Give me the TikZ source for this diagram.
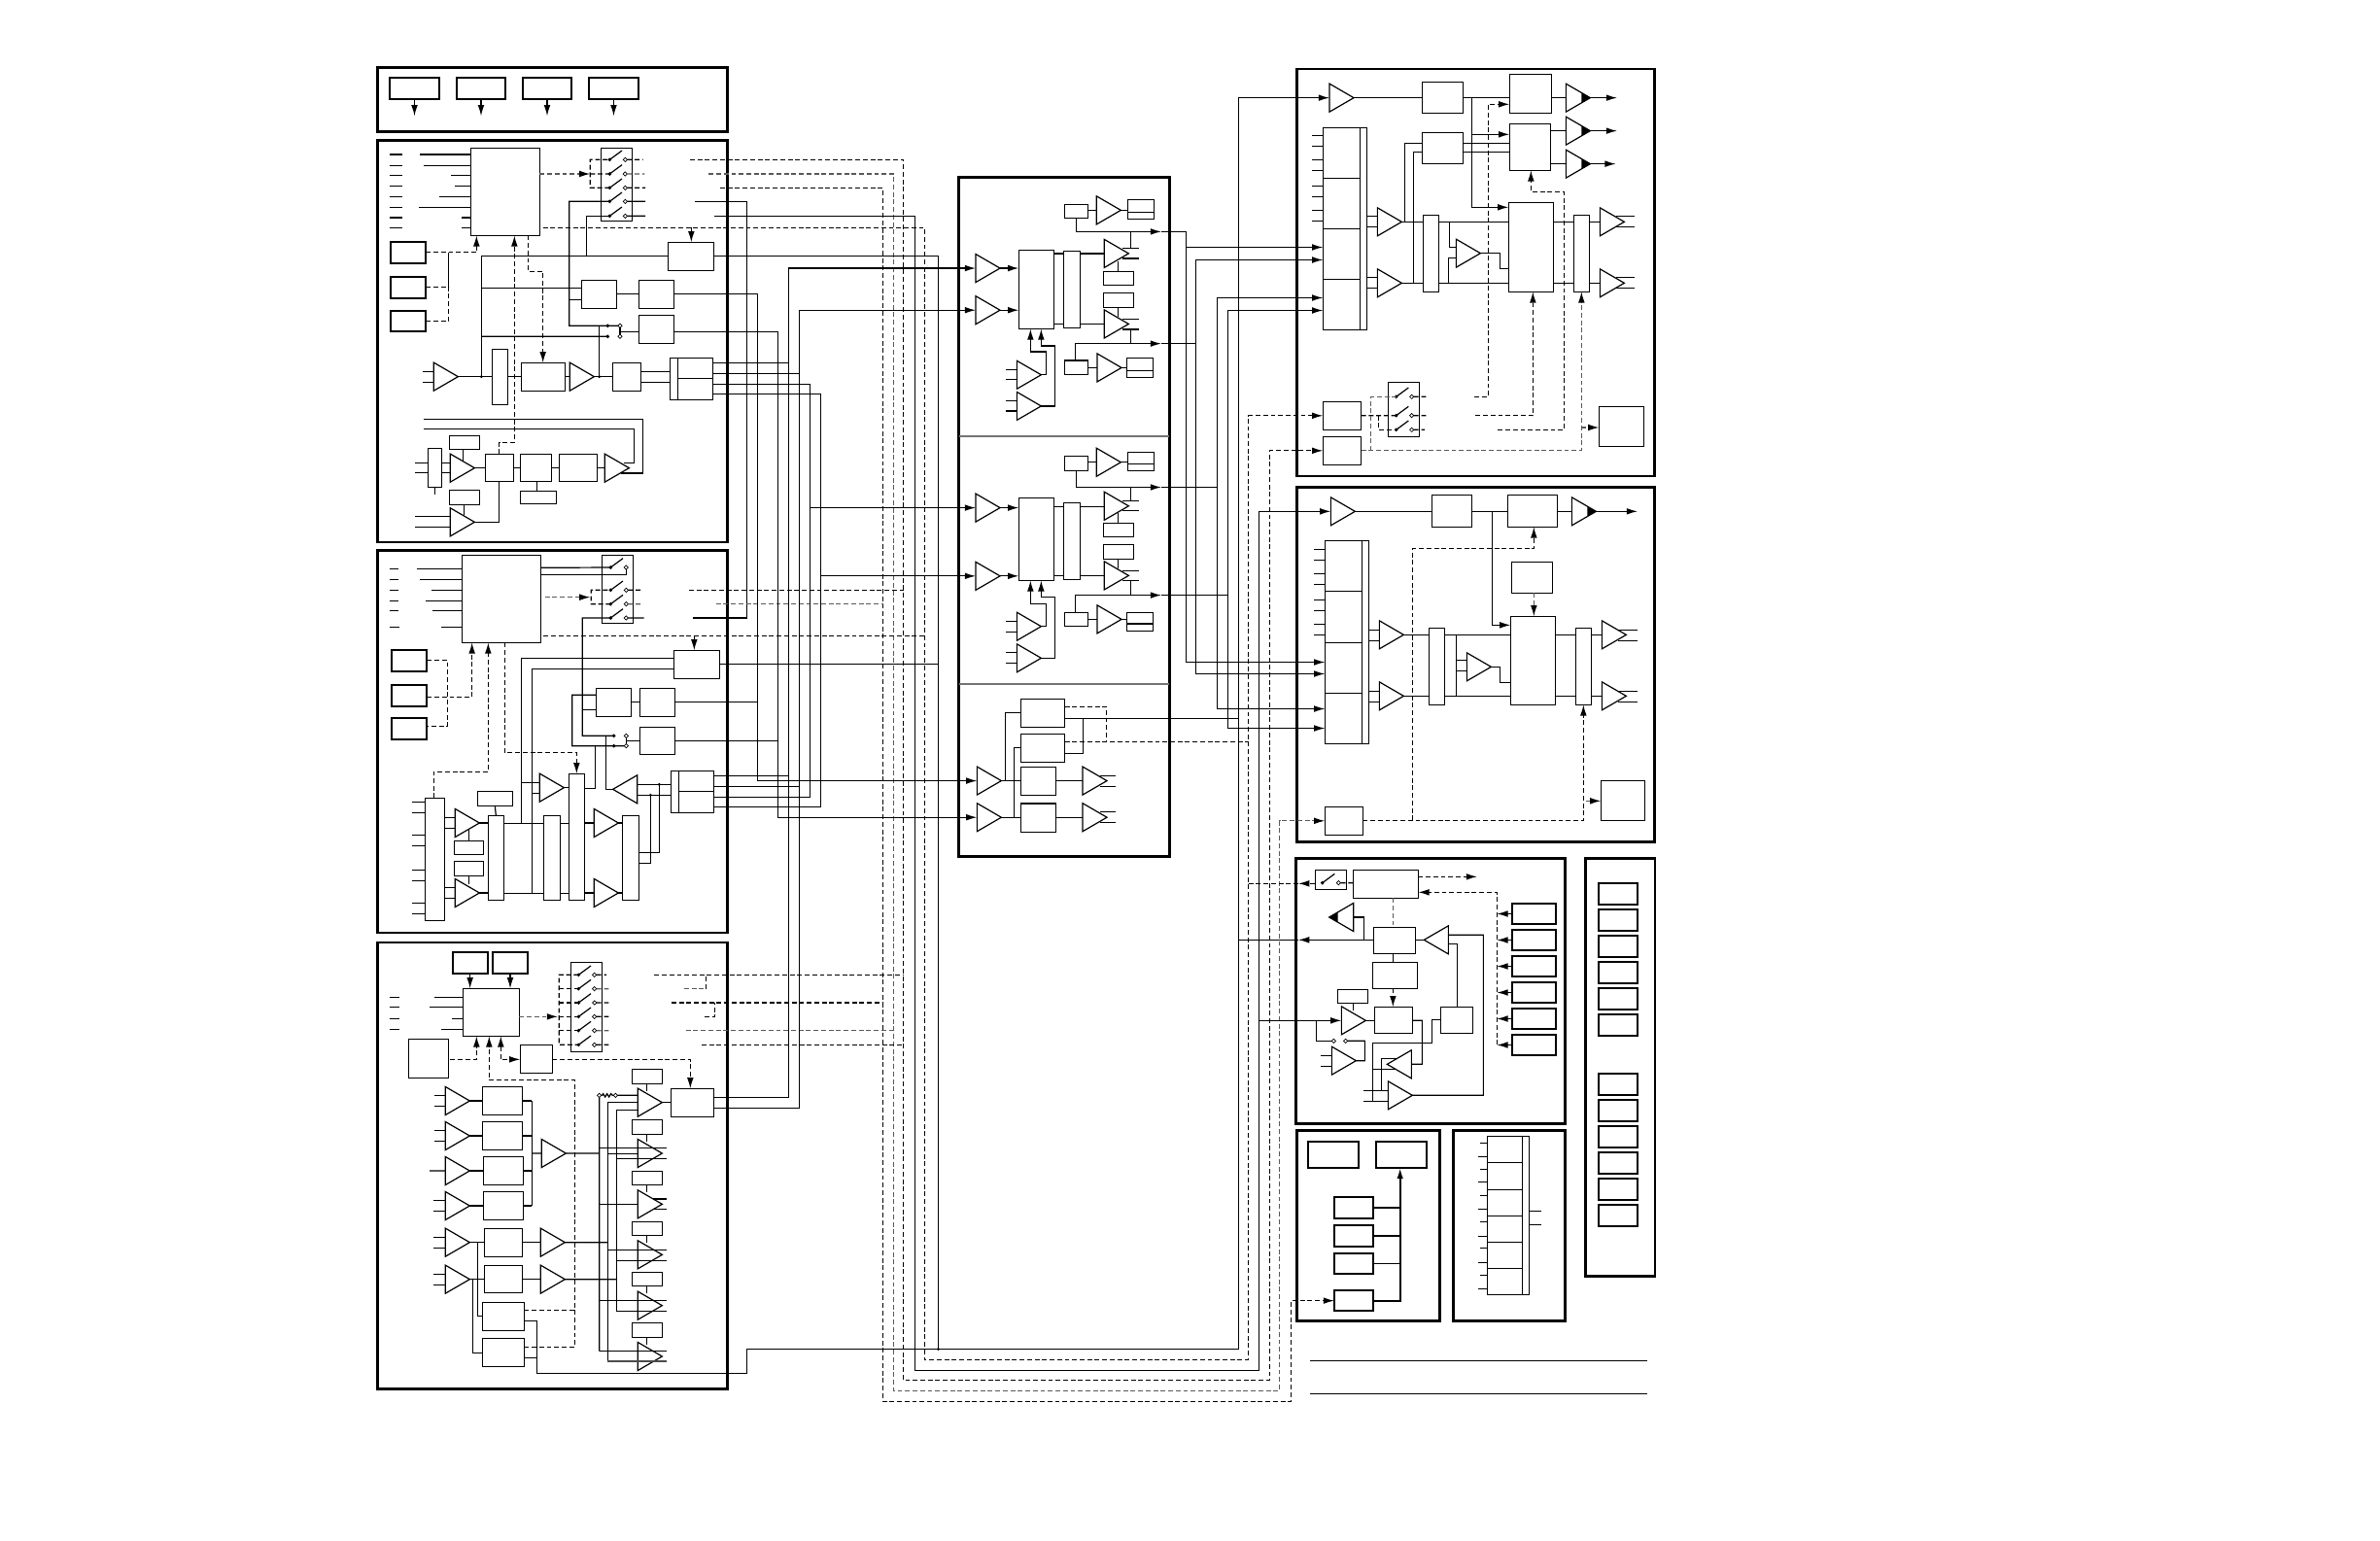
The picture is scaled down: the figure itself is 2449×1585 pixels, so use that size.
\documentclass[tikz,border=0pt]{standalone}
\usetikzlibrary{arrows.meta,fit,shapes.geometric}
\tikzset{
  dsh/.style={dash pattern=on 1.4pt off .8pt},
  gdsh/.style={dsh,draw=black!65},
  boxs/.style={draw,rectangle,inner sep=0pt,outer sep=0pt,line width=.34pt},
  boxk/.style={boxs,line width=.5pt},
  panel/.style={boxs,line width=.8pt},
  ampn/.style={rectangle,inner sep=0pt,outer sep=0pt,minimum width=.25cm,minimum height=.29cm},
  bdot/.style={diamond,fill=black,inner sep=0pt,outer sep=0pt,minimum size=1.1pt},
  odot/.style={diamond,draw,fill=white,line width=.2pt,inner sep=0pt,outer sep=0pt,minimum size=1.2pt},
  jdot/.style={circle,fill=black,inner sep=0pt,minimum size=.9pt},
  >={Latex[length=3.2pt,width=1.9pt,color=black]},
}
\newcommand{\bx}[6][boxs]{\path (#3,#4) coordinate (#2-p) (#5,#6) coordinate (#2-q); \node[#1,fit=(#2-p)(#2-q)] (#2) {};}
\newcommand{\ampr}[3]{\node[ampn,anchor=west] (#1) at (#2,#3) {}; \draw (#1.north west) -- (#1.east) -- (#1.south west) -- cycle;}
\newcommand{\ampl}[3]{\node[ampn,anchor=east] (#1) at (#2,#3) {}; \draw (#1.north east) -- (#1.west) -- (#1.south east) -- cycle;}
\newcommand{\amprf}[3]{\ampr{#1}{#2}{#3} \fill (#1.east) -- ++(-27,-16) -- ++(0,32) -- cycle;}
\newcommand{\amplf}[3]{\ampl{#1}{#2}{#3} \fill (#1.west) -- ++(27,-16) -- ++(0,32) -- cycle;}
\newcommand{\swt}[4]{\node[bdot] (#1a) at (#2,#4) {}; \node[odot] (#1b) at (#3,#4) {}; \draw (#1a.center) -- ++(38,-28);}
\begin{document}
\begin{tikzpicture}[x=.01cm,y=-.01cm,line width=.34pt]
\useasboundingbox (0,0) rectangle (2449,1585);
\begin{scope}[shift={(370,50)},scale=1/3]
  \bx[panel]{kp}{55}{58}{1136}{256}
  \bx[boxk]{k1}{92}{90}{247}{156}
  \bx[boxk]{k2}{299}{90}{451}{156}
  \bx[boxk]{k3}{503}{90}{655}{156}
  \bx[boxk]{k4}{707}{90}{862}{156}
  \foreach \n in {k1,k2,k3,k4} \draw[->] (\n.south) -- ++(0,52);
  \bx[panel]{ap}{55}{284}{1136}{1524}
  \bx{ac}{343}{307}{556}{577}
  \foreach \y in {327,361,391,424,457,490,522,553} \draw (92,\y) -- (132,\y);
  \foreach \y/\x in {327/186,361/198,391/282,424/294,457/246,490/183,522/315,553/315} \draw (ac.west |- 0,\y) -- (\x,\y);
  \bx[boxk]{ak1}{95}{597}{205}{662}
  \bx[boxk]{ak2}{95}{704}{205}{771}
  \bx[boxk]{ak3}{95}{809}{205}{874}
  \draw[dsh,->] (ak1.east) -| (ac.south -| 361,0);
  \draw[dsh] (ak2.east) -| (275,629);
  \draw[dsh] (ak3.east) -| (275,629);
  \bx{as}{745}{307}{841}{532}
  \foreach \n/\y in {1/343,2/387,3/430,4/472,5/517} {\swt{as\n}{772}{820}{\y}}
  \draw[gdsh,->] (ac.east |- 0,387) -- (712,387);
  \draw[dsh] (712,387) -- (as2a.center);
  \draw[dsh] (as3a.center) -| (712,343) -- (as1a.center);
  \draw[dsh] (as1b.east) -- (875,343);
  \draw[gdsh] (as2b.east) -- (880,387);
  \draw[dsh] (as3b.east) -- (882,430);
  \draw (as4b.east) -- (882,472);
  \draw (as5b.east) -- (882,517);
  \coordinate (ga1) at (1020,343);
  \coordinate (ga2) at (1078,387);
  \coordinate (ga3) at (1113,430);
  \coordinate (ga4) at (1035,472);
  \coordinate (ga5) at (1096,517);
  \coordinate (gad) at (566,553);
  \bx{art}{952}{598}{1093}{686}
  \draw[dsh,->] (1024,553) -- (art.north -| 1024,0);
  \bx{am1}{685}{715}{793}{802}
  \bx{am2}{862}{715}{970}{802}
  \bx{am3}{862}{823}{970}{910}
  \node[bdot] (aq1) at (766,856) {};
  \node[bdot] (aq2) at (766,889) {};
  \node[odot] (ar1) at (804,856) {};
  \node[odot] (ar2) at (804,889) {};
  \draw (as4a.center) -| (647,856) -- (aq1.center) -- (ar1.west);
  \draw (ar1.south) -- (ar2.north);
  \draw (804,874) -- (am3.west |- 0,874);
  \draw (as5a.center) -| (700,640);
  \draw (art.west |- 0,640) -| (376,1013);
  \draw (am1.west |- 0,739) -- (376,739);
  \draw (am1.west |- 0,775) -- (647,775);
  \draw (am1.east) to (am2.west);
  \draw (376,889) -- (aq2.center);
  \draw (740,856) -- (740,1013);
  \bx{ad}{499}{970}{634}{1057}
  \draw[dsh,->] (ac.south -| 520,0) |- (566,688) -- (ad.north -| 566,0);
  \ampr{au1}{229}{1013}
  \draw (au1.west |- 0,997) -- ++(-33,0);
  \draw (au1.west |- 0,1030) -- ++(-33,0);
  \bx{av}{409}{928}{458}{1100}
  \draw (au1.east) -- (au1.east -| av.west);
  \draw (av.east |- au1.east) -- (ad.west |- au1.east);
  \ampr{au2}{649}{1013}
  \draw (ad.east |- au2.west) -- (au2.west);
  \bx{ae}{781}{970}{868}{1057}
  \draw (au2.east) -- (au2.east -| ae.west);
  \node[jdot] (aj1) at (376,1013) {};
  \node[jdot] (aj2) at (740,1013) {};
  \bx{ao}{958}{955}{1090}{1084}
  \draw (982,955) -- (982,1084);
  \draw (982,1018) -- (1090,1018);
  \draw (ae.east |- 0,997) -- (ao.west |- 0,997);
  \draw (ae.east |- 0,1030) -- (ao.west |- 0,1030);
  \bx{af}{211}{1234}{253}{1354}
  \draw (232,1354) -- (232,1376);
  \ampr{au3}{280}{1295}
  \ampr{au4}{757}{1295}
  \ampr{au5}{280}{1462}
  \foreach \y in {1279,1309} {
    \draw (af.west |- 0,\y) -- ++(-40,0);
    \draw (af.east |- 0,\y) -- (au3.west |- 0,\y);
  }
  \bx{ag1}{277}{1195}{370}{1237}
  \draw (319,1237) -- (319,1276);
  \bx{ag2}{388}{1252}{475}{1336}
  \bx{ag3}{496}{1252}{592}{1336}
  \bx{ag4}{616}{1252}{733}{1336}
  \bx{ag5}{496}{1366}{607}{1405}
  \bx{ag6}{277}{1363}{370}{1408}
  \draw (au3.east) -- (au3.east -| ag2.west);
  \draw (ag2.east |- au3.east) -- (ag3.west |- au3.east);
  \draw (ag3.east |- au3.east) -- (ag4.west |- au3.east);
  \draw (ag4.east |- au4.west) -- (au4.west);
  \draw (547,1336) -- (547,1366);
  \draw (322,1408) -- (322,1441);
  \draw[dsh,->] (ag2.north -| 431,0) |- (478,1217) -- (ac.south -| 478,0);
  \draw (au5.east) -| (ag2.south -| 431,0);
  \draw (au5.west |- 0,1444) -- ++(-109,0);
  \draw (au5.west |- 0,1477) -- ++(-109,0);
  \draw (808,1311) -| (875,1144) -- (199,1144);
  \draw (815,1279) -| (848,1174) -- (199,1174);
\end{scope}
\begin{scope}[shift={(370,560)},scale=1/3]
  \bx[panel]{bp}{55}{20}{1136}{1200}
  \bx{bc}{316}{34}{559}{304}
  \foreach \y in {76,109,142,175,205} \draw (92,\y) -- (120,\y);
  \draw (92,256) -- (124,256);
  \foreach \y/\x in {76/177,109/186,142/222,175/204,205/225,256/252} \draw (bc.west |- 0,\y) -- (\x,\y);
  \bx[boxk]{bk1}{99}{327}{208}{393}
  \bx[boxk]{bk2}{99}{435}{208}{501}
  \bx[boxk]{bk3}{99}{537}{208}{603}
  \draw[dsh] (bk1.east |- 0,358) -| (271,562) -- (bk3.east |- 0,562);
  \draw[dsh,->] (bk2.east |- 0,472) -| (bc.south -| 347,0);
  \bx{bs}{748}{34}{844}{244}
  \foreach \n/\y in {1/72,2/142,3/185,4/228} {\swt{bs\n}{775}{823}{\y}}
  \draw (bc.east |- 0,73) -- (bs1a.center);
  \draw (bc.east |- 0,94) -| (bs1b.south);
  \draw[gdsh,->] (572,164) -- (712,164);
  \draw[dsh] (bs3a.center) -| (715,142) -- (bs2a.center);
  \draw[dsh] (bs2b.east) -- (870,142);
  \draw[gdsh] (bs3b.east) -- (875,185);
  \draw (bs4b.east) -- (878,228);
  \coordinate (gb1) at (1017,142);
  \coordinate (gb2) at (1100,185);
  \coordinate (gb3) at (1030,228);
  \coordinate (gbd) at (568,284);
  \bx{brt}{970}{328}{1111}{415}
  \draw[dsh,->] (1033,284) -- (brt.north -| 1033,0);
  \draw (brt.west |- 0,352) -| (499,862);
  \draw (brt.west |- 0,385) -| (532,1078);
  \bx{bm1}{730}{445}{838}{532}
  \bx{bm2}{865}{445}{973}{532}
  \bx{bm3}{865}{565}{973}{649}
  \node[bdot] (bq1) at (785,592) {};
  \node[bdot] (bq2) at (785,623) {};
  \node[odot] (br1) at (823,592) {};
  \node[odot] (br2) at (823,623) {};
  \draw (bs4a.center) -| (688,592) -- (bq1.center);
  \draw (bm1.west |- 0,466) -| (656,623) -- (bq2.center) -- (br2.west);
  \draw (bm1.west |- 0,511) -- (688,511);
  \draw (bm1.east |- bm2.west) -- (bm2.west);
  \draw (br1.south) -- (br2.north);
  \draw (823,607) -- (bm3.west |- 0,607);
  \bx{bk}{202}{784}{262}{1162}
  \foreach \y in {796,829,898,931,1006,1039,1108,1141} \draw (bk.west |- 0,\y) -- ++(-40,0);
  \ampr{bu1}{295}{861}
  \ampr{bu2}{295}{1077}
  \foreach \y in {844,877,1060,1093} \draw (bk.east |- 0,\y) -- (bu1.west |- 0,\y);
  \bx{bf1}{292}{916}{382}{958}
  \bx{bf2}{292}{979}{382}{1024}
  \draw (337,880) -- (337,916);
  \draw (337,1024) -- (337,1050);
  \bx{bg}{397}{838}{445}{1099}
  \bx{bf3}{364}{763}{472}{809}
  \draw (bf3.south) -- (bg.north);
  \draw (bu1.east) -- (bu1.east -| bg.west);
  \draw (bu2.east) -- (bu2.east -| bg.west);
  \bx{bh}{568}{838}{619}{1099}
  \bx{bt}{646}{709}{694}{1099}
  \bx{bn}{811}{838}{862}{1099}
  \draw (bg.east |- 0,862) -- (bh.west |- 0,862);
  \draw (bg.east |- 0,1078) -- (bh.west |- 0,1078);
  \draw (bh.east |- 0,862) -- (bt.west |- 0,862);
  \draw (bh.east |- 0,1078) -- (bt.west |- 0,1078);
  \ampr{bu3}{556}{752}
  \draw (bu3.west |- 0,736) -- (499,736);
  \draw (bu3.west |- 0,769) -- (532,769);
  \draw (bu3.east) -- (bu3.east -| bt.west);
  \draw (727,623) |- (bt.east |- 0,754);
  \ampr{bu4}{724}{861}
  \ampr{bu5}{724}{1077}
  \draw (bt.east |- bu4.west) -- (bu4.west);
  \draw (bt.east |- bu5.west) -- (bu5.west);
  \draw (bu4.east) -- (bu4.east -| bn.west);
  \draw (bu5.east) -- (bu5.east -| bn.west);
  \ampl{bl}{857}{757}
  \draw (760,592) |- (bl.west);
  \bx{bo}{961}{700}{1093}{829}
  \draw (985,700) -- (985,829);
  \draw (985,763) -- (1093,763);
  \draw (bl.east |- 0,742) -- (bo.west |- 0,742);
  \draw (bl.east |- 0,775) -- (bo.west |- 0,775);
  \draw (bn.east |- 0,952) -| (925,742);
  \draw (bn.east |- 0,985) -| (898,775);
  \node[jdot] (bj1) at (925,742) {};
  \node[jdot] (bj2) at (898,775) {};
  \draw[dsh,->] (229,784) |- (397,703) -- (bc.south -| 397,0);
  \draw[dsh,->] (bc.south -| 448,0) |- (670,643) -- (bt.north -| 670,0);
\end{scope}
\begin{scope}[shift={(370,960)},scale=1/3]
  \bx[panel]{cp}{55}{30}{1136}{1408}
  \bx[boxk]{ck1}{287}{60}{396}{126}
  \bx[boxk]{ck2}{410}{60}{520}{126}
  \bx{cc}{319}{172}{493}{319}
  \draw[->] (ck1.south -| 341,0) -- (cc.north -| 341,0);
  \draw[->] (ck2.south -| 465,0) -- (cc.north -| 465,0);
  \foreach \y in {199,229,265,298} \draw (92,\y) -- (124,\y);
  \foreach \y/\x in {199/231,229/216,265/285,298/252} \draw (cc.west |- 0,\y) -- (\x,\y);
  \bx{cf}{151}{328}{274}{448}
  \draw[dsh,->] (280,391) -| (cc.south -| 361,0);
  \bx{cg}{496}{346}{595}{433}
  \bx{cx}{961}{481}{1093}{568}
  \draw[dsh,<->] (cc.south -| 436,0) |- (cg.west |- 0,391);
  \draw[dsh,->] (cg.east |- 0,391) -| (cx.north -| 1021,0);
  \draw[gdsh,->] (cc.east |- 0,259) -- (612,259);
  \bx{cs}{652}{91}{748}{367}
  \foreach \n/\y in {1/130,2/173,3/216,4/259,5/302,6/346} {\swt{cs\n}{676}{725}{\y}}
  \draw[dsh] (cs1a.center) -| (616,346) -- (cs6a.center);
  \foreach \n in {2,3,4,5} \draw[dsh] (616,0 |- cs\n a.center) -- (cs\n a.center);
  \draw[dsh] (cs1b.east) -- (762,130);
  \draw[gdsh] (cs2b.east) -- (775,173);
  \draw[dsh] (cs3b.east) -- (775,216);
  \draw[dsh] (cs4b.east) -- (775,259);
  \draw[gdsh] (cs5b.east) -- (775,302);
  \draw[dsh] (cs6b.east) -- (775,346);
  \coordinate (gc1) at (910,130);
  \coordinate (gc3) at (963,216);
  \coordinate (gc5) at (1007,302);
  \coordinate (gc6) at (1056,346);
  \coordinate (gcc) at (1195.5,1360);
  \draw[gdsh] (1002,173) -- (1070,173);
  \draw[dsh] (1070,173) -- (1070,130);
  \draw[dsh] (1065,259) -| (1097,216);
  \ampr{cu1}{265}{519}
  \ampr{cu2}{265}{627}
  \ampr{cu3}{265}{735}
  \ampr{cu4}{265}{843}
  \ampr{cu5}{265}{956}
  \ampr{cu6}{265}{1070}
  \foreach \y/\x in {502/231,535/231,610/231,643/231,826/228,859/228,940/228,973/228,1054/228,1087/228} \draw (cu1.west |- 0,\y) -- (\x,\y);
  \draw (cu3.west) -- (216,735);
  \bx{cw1}{379}{475}{502}{562}
  \bx{cw2}{379}{583}{502}{670}
  \bx{cw3}{382}{691}{505}{778}
  \bx{cw4}{382}{799}{505}{886}
  \bx{cw5}{385}{913}{502}{1000}
  \bx{cw6}{385}{1027}{502}{1111}
  \bx{ce1}{379}{1141}{508}{1228}
  \bx{ce2}{379}{1252}{508}{1339}
  \foreach \n in {1,2,3,4,5,6} \draw (cu\n.east) -- (cu\n.east -| cw\n.west);
  \foreach \n in {1,2,3,4} \draw (cw\n.east |- cu\n.east) -- (532,0 |- cu\n.east);
  \draw (532,519) -- (532,843);
  \ampr{cj1}{562}{681}
  \ampr{cj2}{559}{956}
  \ampr{cj3}{559}{1070}
  \draw (532,681) -- (cj1.west);
  \draw (cw5.east |- cj2.west) -- (cj2.west);
  \draw (cw6.east |- cj3.west) -- (cj3.west);
  \draw (cj1.east) -- (740,681);
  \draw (cj2.east) -- (766,956);
  \draw (cj3.east) -- (793,1070);
  \draw (364,956) |- (ce1.west |- 0,1183);
  \draw (349,1070) |- (ce2.west |- 0,1298);
  \draw (ce1.east |- 0,1198) -- (547,1198) |- (gcc);
  \draw (ce2.east |- 0,1312) -- (547,1312);
  \draw[dsh] (ce1.east |- 0,1165) -- (664,1165);
  \draw[dsh,->] (ce2.east |- 0,1279) -| (664,455) -| (cc.south -| 400,0);
  \foreach \n/\y in {1/524,2/681,3/838,4/994,5/1151,6/1308} {\ampr{cq\n}{859}{\y}}
  \bx{cr1}{841}{421}{935}{466}
  \bx{cr2}{841}{577}{935}{622}
  \bx{cr3}{841}{736}{935}{778}
  \bx{cr4}{841}{892}{935}{934}
  \bx{cr5}{841}{1048}{935}{1090}
  \bx{cr6}{841}{1205}{935}{1249}
  \foreach \n in {1,2,3,4,5,6} \draw (cr\n.south -| 886,0) -- ++(0,23);
  \draw (cq1.east) -- (cq1.east -| cx.west);
  \node[odot] (cl1) at (740,502) {};
  \node[odot] (cl2) at (790,502) {};
  \draw (cl1.east) -- (749,502) -- (752,497) -- (758,507) -- (764,497) -- (770,507) -- (776,497) -- (781,502) -- (cl2.west);
  \draw (cl2.east) -- (859,502);
  \draw (cl1.south) -- (740,1292);
  \draw (766,523) -- (766,1323);
  \draw (793,547) -- (793,1168);
  \draw (766,523) -- (cq1.west |- 0,523);
  \draw (793,547) -- (cq1.west |- 0,547);
  \foreach \a/\b/\y in {740/947/664,766/859/682,793/947/697,740/859/838,905/947/822,905/947/853,766/947/980,793/947/1013,740/947/1136,793/947/1168,740/947/1292} \draw (\a,\y) -- (\b,\y);
  \draw[draw=black!70] (766,1323) -- (947,1323);
\end{scope}
\begin{scope}[shift={(980,170)},xscale=1/3,yscale=1/2.178]
  \bx[panel]{mp}{20}{28}{670}{1550}
  \draw[draw=black!55,line width=.5pt] (mp.west |- 0,607) -- (mp.east |- 0,607);
  \draw[draw=black!55,line width=.5pt] (mp.west |- 0,1163) -- (mp.east |- 0,1163);
  \ampr{ma1}{72}{231}
  \ampr{ma2}{72}{325}
  \bx{mb1}{205}{190}{313}{367}
  \bx{mb2}{343}{193}{395}{365}
  \draw[->] (ma1.east) -- (ma1.east -| mb1.west);
  \draw[->] (ma2.east) -- (ma2.east -| mb1.west);
  \ampr{md1}{469}{198}
  \ampr{md2}{469}{356}
  \foreach \y in {198,356} {
    \draw (mb1.east |- 0,\y) -- (mb2.west |- 0,\y);
    \draw (mb2.east |- 0,\y) -- (md1.west |- 0,\y);
  }
  \bx{me1}{466}{238}{559}{269}
  \bx{me2}{466}{286}{559}{319}
  \draw (me1.north -| 512,0) -- (512,215);
  \draw (me2.south -| 512,0) -- (512,340);
  \foreach \y in {187,209,345,368} \draw (525,\y) -- (577,\y);
  \bx{mi1}{346}{88}{418}{119}
  \ampr{mh1}{445}{101}
  \bx{mj1}{541}{77}{622}{121}
  \draw (541,106) -- (622,106);
  \draw (mi1.east |- mh1.west) -- (mh1.west);
  \draw (mh1.east) -- (mh1.east -| mj1.west);
  \draw[->] (mi1.south -| 382,0) |- (645,149);
  \draw (550,187) -- (550,149);
  \coordinate (mo1) at (645,149);
  \bx{mi2}{346}{438}{418}{469}
  \ampr{mh2}{447}{454}
  \bx{mj2}{538}{432}{619}{476}
  \draw (538,460) -- (619,460);
  \draw (mi2.east |- mh2.west) -- (mh2.west);
  \draw (mh2.east) -- (mh2.east -| mj2.west);
  \draw[->] (mi2.north -| 380,0) |- (645,400);
  \draw (550,368) -- (550,400);
  \coordinate (mo2) at (645,400);
  \ampr{mg1}{199}{470}
  \ampr{mg2}{199}{540}
  \foreach \y in {458,481,528,551} \draw (mg1.west |- 0,\y) -- ++(-34,0);
  \draw[->] (mg1.east) -| (290,418) -| (mb1.south -| 241,0);
  \draw[->] (mg2.east) -| (316,405) -| (mb1.south -| 274,0);
  \ampr{ma3}{72}{768}
  \ampr{ma4}{72}{921}
  \bx{mb3}{205}{746}{313}{931}
  \bx{mb4}{343}{757}{395}{929}
  \draw[->] (ma3.east) -- (ma3.east -| mb3.west);
  \draw[->] (ma4.east) -- (ma4.east -| mb3.west);
  \ampr{md3}{469}{764}
  \ampr{md4}{469}{920}
  \foreach \y in {765,921} {
    \draw (mb3.east |- 0,\y) -- (mb4.west |- 0,\y);
    \draw (mb4.east |- 0,\y) -- (md3.west |- 0,\y);
  }
  \bx{me3}{466}{802}{559}{833}
  \bx{me4}{466}{851}{559}{883}
  \draw (me3.north -| 512,0) -- (512,780);
  \draw (me4.south -| 512,0) -- (512,905);
  \foreach \y in {752,775,909,932} \draw (525,\y) -- (577,\y);
  \bx{mi3}{346}{652}{418}{685}
  \ampr{mh3}{445}{666}
  \bx{mj3}{541}{643}{622}{685}
  \draw (541,670) -- (622,670);
  \draw (mi3.east |- mh3.west) -- (mh3.west);
  \draw (mh3.east) -- (mh3.east -| mj3.west);
  \draw[->] (mi3.south -| 382,0) |- (645,722);
  \draw (550,752) -- (550,722);
  \coordinate (mo3) at (645,722);
  \bx{mi4}{346}{1003}{418}{1033}
  \ampr{mh4}{447}{1018}
  \bx{mj4}{538}{1003}{619}{1044}
  \draw (538,1028) -- (619,1028);
  \draw (mi4.east |- mh4.west) -- (mh4.west);
  \draw (mh4.east) -- (mh4.east -| mj4.west);
  \draw[->] (mi4.north -| 380,0) |- (645,964);
  \draw (550,932) -- (550,964);
  \coordinate (mo4) at (645,964);
  \ampr{mg3}{199}{1034}
  \ampr{mg4}{199}{1105}
  \foreach \y in {1022,1046,1092,1116} \draw (mg3.west |- 0,\y) -- ++(-34,0);
  \draw[->] (mg3.east) -| (290,983) -| (mb3.south -| 241,0);
  \draw[->] (mg4.east) -| (316,968) -| (mb3.south -| 274,0);
  \bx{ms1}{211}{1197}{347}{1260}
  \bx{ms2}{211}{1275}{347}{1338}
  \bx{ms3}{211}{1349}{320}{1413}
  \bx{ms4}{211}{1431}{320}{1495}
  \ampr{mc1}{76}{1380}
  \ampr{mc2}{76}{1462}
  \draw (mc1.east) -- (mc1.east -| ms3.west);
  \draw (mc2.east) -- (mc2.east -| ms4.west);
  \draw (163,1380) |- (ms1.west |- 0,1227);
  \draw (190,1462) |- (ms2.west |- 0,1305);
  \draw (ms2.east |- 0,1318) -| (404,1240);
  \coordinate (mo5) at (ms1.east |- 0,1240);
  \coordinate (mo6) at (ms2.east |- 0,1292);
  \draw[dsh] (ms1.east |- 0,1214) -| (476,1292);
  \ampr{mt1}{402}{1380}
  \ampr{mt2}{402}{1462}
  \draw (ms3.east |- mt1.west) -- (mt1.west);
  \draw (ms4.east |- mt2.west) -- (mt2.west);
  \foreach \y in {1369,1393,1450,1474} \draw (455,\y) -- (503,\y);
\end{scope}
\begin{scope}[shift={(1330,60)},scale=1/3]
  \bx[panel]{rp}{14}{33}{1118}{1290}
  \ampr{ra1}{114}{122}
  \bx{rb1}{400}{73}{526}{169}
  \bx{rb2}{670}{49}{799}{169}
  \bx{rb3}{670}{202}{797}{346}
  \bx{rb4}{400}{229}{526}{325}
  \amprf{ra2}{844}{122}
  \amprf{ra3}{844}{224}
  \amprf{ra4}{844}{326}
  \bx{rc}{667}{445}{805}{721}
  \draw (ra1.east) -- (ra1.east -| rb1.west);
  \draw (rb1.east |- ra1.east) -- (rb2.west |- ra1.east);
  \draw (rb2.east |- ra2.west) -- (ra2.west);
  \draw[->] (ra2.east) -- ++(83,0);
  \draw[->] (ra3.east) -- ++(83,0);
  \draw[->] (ra4.east) -- ++(79,0);
  \draw (rb3.east |- ra3.west) -- (ra3.west);
  \draw (rb3.east |- ra4.west) -- (ra4.west);
  \draw[->] (553,122) |- (rc.west |- 0,460);
  \draw[->] (553,235) -- (rb3.west |- 0,235);
  \draw (rb4.east |- 0,262) -- (rb3.west |- 0,262);
  \draw (rb4.east |- 0,289) -- (rb3.west |- 0,289);
  \draw (rb4.west |- 0,262) -| (346,505);
  \draw (rb4.west |- 0,289) -| (373,694);
  \bx{rs}{94}{214}{229}{838}
  \draw (208,214) -- (208,838);
  \foreach \y in {370,526,682} \draw (rs.west |- 0,\y) -- (208,\y);
  \foreach \y in {238,271,313,346,394,427,469,502} \draw (rs.west |- 0,\y) -- ++(-34,0);
  \ampr{rd1}{262}{505}
  \ampr{rd2}{262}{694}
  \foreach \y in {487,520,676,709} \draw (rs.east |- 0,\y) -- (rd1.west |- 0,\y);
  \bx{rv1}{403}{484}{451}{721}
  \bx{rv2}{868}{484}{916}{721}
  \draw (rd1.east) -- (rd1.east -| rv1.west);
  \draw (rd2.east) -- (rd2.east -| rv1.west);
  \foreach \y in {505,694} {
    \draw (rv1.east |- 0,\y) -- (rc.west |- 0,\y);
    \draw (rc.east |- 0,\y) -- (rv2.west |- 0,\y);
  }
  \ampr{rd3}{505}{602}
  \draw (485,505) |- (rd3.west |- 0,583);
  \draw (481,694) |- (rd3.west |- 0,616);
  \draw (rd3.east) -| (640,650) -- (rc.west |- 0,650);
  \ampr{re1}{949}{505}
  \ampr{re2}{949}{694}
  \draw (rv2.east |- re1.west) -- (re1.west);
  \draw (rv2.east |- re2.west) -- (re2.west);
  \foreach \y in {487,520,676,709} \draw (1000,\y) -- (1056,\y);
  \bx{rsw}{295}{1000}{392}{1168}
  \foreach \n/\y in {1/1045,2/1103,3/1147} {\swt{rw\n}{320}{368}{\y}}
  \draw[dsh] (rw1b.east) -- (415,1045);
  \draw[dsh] (rw2b.east) -- (415,1103);
  \draw[dsh] (rw3b.east) -- (408,1147);
  \bx{rk}{94}{1060}{212}{1147}
  \bx{rl}{94}{1168}{212}{1255}
  \bx{rj}{946}{1075}{1085}{1198}
  \draw[dsh] (rk.east) -- (rw2a.center);
  \draw[dsh] (265,1103) |- (rw3a.center);
  \draw[gdsh,->] (rl.east) -| (rv2.south -| 892,0);
  \draw[gdsh] (242,1212) |- (rw1a.center);
  \draw[gdsh,->] (892,1140) -- (rj.west |- 0,1140);
  \draw[dsh,->] (561,1045) -| (604,142) -- (rb2.west |- 0,142);
  \draw[dsh,->] (565,1103) -| (rc.south -| 742,0);
  \draw[dsh,->] (634,1147) -| (838,412) -| (rb3.south -| 736,0);
\end{scope}
\begin{scope}[shift={(1330,490)},scale=1/3]
  \bx[panel]{sp}{14}{35}{1118}{1130}
  \ampr{sa1}{118}{109}
  \bx{sb1}{430}{58}{553}{157}
  \bx{sb2}{664}{58}{817}{157}
  \amprf{sa2}{862}{109}
  \bx{sb3}{676}{265}{802}{361}
  \bx{sc}{673}{433}{811}{706}
  \draw (sa1.east) -- (sa1.east -| sb1.west);
  \draw (sb1.east |- sa1.east) -- (sb2.west |- sa1.east);
  \draw (sb2.east |- sa2.west) -- (sa2.west);
  \draw[->] (sa2.east) -- ++(128,0);
  \draw[->] (616,109) |- (sc.west |- 0,460);
  \draw[gdsh,->] (sb3.south -| 745,0) -- (sc.north -| 745,0);
  \bx{ss}{100}{199}{235}{826}
  \draw (214,199) -- (214,826);
  \foreach \y in {355,514,670} \draw (ss.west |- 0,\y) -- (214,\y);
  \foreach \y in {226,259,301,334,382,415,457,490} \draw (ss.west |- 0,\y) -- ++(-34,0);
  \ampr{sd1}{268}{490}
  \ampr{sd2}{268}{679}
  \foreach \y in {476,508,664,697} \draw (ss.east |- 0,\y) -- (sd1.west |- 0,\y);
  \bx{sv1}{421}{469}{469}{706}
  \bx{sv2}{874}{469}{922}{706}
  \draw (sd1.east) -- (sd1.east -| sv1.west);
  \draw (sd2.east) -- (sd2.east -| sv1.west);
  \foreach \y in {490,679} {
    \draw (sv1.east |- 0,\y) -- (sc.west |- 0,\y);
    \draw (sc.east |- 0,\y) -- (sv2.west |- 0,\y);
  }
  \draw (505,490) -- (505,679);
  \ampr{sd3}{538}{589}
  \draw (505,568) -- (sd3.west |- 0,568);
  \draw (505,601) -- (sd3.west |- 0,601);
  \draw (sd3.east) -| (640,637) -- (sc.west |- 0,637);
  \ampr{se1}{955}{490}
  \ampr{se2}{955}{679}
  \draw (sv2.east |- se1.west) -- (se1.west);
  \draw (sv2.east |- se2.west) -- (se2.west);
  \foreach \y in {476,508,664,697} \draw (1005,\y) -- (1065,\y);
  \bx{sl}{100}{1021}{217}{1108}
  \bx{sj}{952}{940}{1088}{1063}
  \draw[dsh,->] (sl.east |- 0,1063) -| (sv2.south -| 898,0);
  \draw[dsh,->] (371,1063) |- (745,224) -- (sb2.south -| 745,0);
  \draw[gdsh,->] (905,1003) -- (sj.west |- 0,1003);
\end{scope}
\begin{scope}[shift={(1320,870)},scale=1/3]
  \bx[panel]{tp}{40}{40}{872}{859}
  \bx{ts}{100}{76}{196}{136}
  \swt{tw}{122}{172}{116}
  \bx{tb1}{217}{76}{418}{163}
  \draw[dsh] (tb1.west |- 0,116) -- (twb.east);
  \draw[dsh,->] (ts.west |- 0,118) -- (48,118);
  \coordinate (tdh) at (48,118);
  \draw[dsh,->] (tb1.east |- 0,97) -- ++(182,0);
  \draw[dsh,->] (661,616) |- (tb1.east |- 0,145);
  \bx[boxk]{tk1}{707}{180}{844}{243}
  \bx[boxk]{tk2}{707}{261}{844}{324}
  \bx[boxk]{tk3}{707}{342}{844}{405}
  \bx[boxk]{tk4}{707}{423}{844}{486}
  \bx[boxk]{tk5}{707}{504}{844}{567}
  \bx[boxk]{tk6}{707}{585}{844}{648}
  \foreach \n in {1,2,3,4,5,6} \draw[->] (tk\n.west) -- ++(-46,0);
  \bx{tb2}{280}{253}{409}{334}
  \draw[gdsh] (tb1.south -| 341,0) -- (tb2.north -| 341,0);
  \amplf{tf}{218}{222}
  \draw (tf.east) -| (250,292);
  \draw[->] (tb2.west |- 0,292) -- (48,292);
  \coordinate (tfh) at (48,292);
  \ampl{tg}{511}{292}
  \draw (tb2.east |- tg.west) -- (tg.west);
  \bx{tn}{487}{499}{586}{580}
  \bx{tc}{277}{361}{415}{442}
  \bx{td}{283}{499}{400}{580}
  \bx{te}{169}{445}{262}{487}
  \ampr{tq3}{181}{541}
  \ampr{tq4}{151}{665}
  \ampl{tq5}{397}{676}
  \ampr{tq6}{325}{772}
  \draw (tg.east |- 0,277) -| (619,772) -- (tq6.east);
  \draw (tg.east |- 0,305) -| (tn.north -| 538,0);
  \draw (tb2.south -| 340,0) -- (tc.north -| 340,0);
  \draw[dsh,->] (tc.south -| 340,0) -- (td.north -| 340,0);
  \draw (te.south -| 217,0) -- (217,510);
  \draw (tq3.east) -- (tq3.east -| td.west);
  \node[odot] (tr1) at (157,604) {};
  \node[odot] (tr2) at (194,604) {};
  \draw (103,541) |- (tr1.west);
  \draw (tr2.east) -| (253,665) -- (tq4.east);
  \draw (tq4.west |- 0,649) -- ++(-34,0);
  \draw (tq4.west |- 0,682) -- ++(-34,0);
  \draw (td.east |- 0,541) -| (430,676) -- (tq5.east);
  \draw (304,757) |- (352,658);
  \draw (277,691) -- (347,691);
  \draw (277,790) |- (460,610) |- (tn.west);
  \draw (tq6.west |- 0,757) -- ++(-75,0);
  \draw (tq6.west |- 0,790) -- ++(-75,0);
  \bx[panel]{up}{43}{881}{485}{1469}
  \bx[boxk]{uk1}{77}{914}{235}{996}
  \bx[boxk]{uk2}{287}{914}{445}{996}
  \bx[boxk]{ub1}{159}{1085}{280}{1152}
  \bx[boxk]{ub2}{159}{1172}{280}{1239}
  \bx[boxk]{ub3}{159}{1260}{280}{1323}
  \bx[boxk]{ub4}{159}{1374}{280}{1438}
  \draw[line width=.55pt,->] (ub4.east) -| (uk2.south -| 362,0);
  \foreach \n in {ub1,ub2,ub3} \draw[line width=.55pt] (\n.east) -- (362,0 |- \n.east);
  \bx[panel]{xp}{526}{881}{872}{1469}
  \bx{xs}{631}{898}{760}{1387}
  \draw (739,898) -- (739,1387);
  \foreach \y in {979,1063,1144,1225,1306} \draw (xs.west |- 0,\y) -- (739,\y);
  \foreach \y/\x in {919/609,961/603,1000/609,1039/603,1081/609,1123/603,1162/609,1207/603,1243/609,1288/603,1327/609,1369/603} \draw (xs.west |- 0,\y) -- (\x,\y);
  \draw (xs.east |- 0,1129) -- ++(38,0);
  \draw (xs.east |- 0,1171) -- ++(38,0);
  \bx[panel]{yp}{934}{40}{1149}{1331}
  \foreach \n/\a/\b in {1/117/183,2/198/264,3/279/345,4/360/426,5/441/507,6/522/588,7/705/771,8/786/852,9/867/933,10/948/1014,11/1029/1095,12/1110/1176} {\bx[boxk]{y\n}{975}{\a}{1095}{\b}}
\end{scope}
\foreach \n/\x in {va/768.5,vb/779.5,vc/800.5,vd/811.5,ve/822.5,vf/833.5,vg/844.5,vh/908.5,vi/919.5,vj/929.5,vk/941.5,vl/951.5,vm/965.5,wa/1220.5,wb/1230.5,wc/1252.5,wd/1263.5,we/1274.5,wf/1284.5,wg/1295.5,wh/1306.5,wi/1316.5,wj/1328.5} \coordinate (\n) at (\x,0);
\foreach \n/\y in {ha/1388.5,hb/1399.5,hc/1410.5,hd/1420.5,he/1431.5,hf/1442.5} \coordinate (\n) at (0,\y);
\draw[dsh,->] (ga1) -| (vj |- hd) -| (wh |- rl.west) -- (rl.west);
\draw[gdsh,->] (ga2) -| (vi |- he) -| (wi |- sl.west) -- (sl.west);
\draw[dsh,->] (ga3) -| (vh |- hf) -| (wj |- ub4.west) -- (ub4.west);
\draw (ga4) -| (va |- gb3) -- (gb3);
\draw[->] (ga5) -| (vk |- hc) -| (wg |- sa1.west) -- (sa1.west);
\draw[dsh,->] (gad) -| (vl |- hb) -| (wf |- rk.west) -- (rk.west);
\draw[dsh] (gbd) -- (gbd -| vl);
\draw (art.east |- 0,263.3) -| (vm |- ha);
\draw (brt.east |- 0,683.5) -- (vm |- 0,683.5);
\draw[->] (gcc) |- (we |- ha) -- (we |- ra1.west) -- (ra1.west);
\node[jdot] (gj) at (vm |- ha) {};
\draw[dsh] (gb1) -- (gb1 -| vj);
\draw[gdsh] (gb2) -- (gb2 -| vh);
\draw[dsh] (gc1) -- (gc1 -| vj);
\draw[dsh] (gc3) -- (gc3 -| vh);
\draw[gdsh] (gc5) -- (gc5 -| vi);
\draw[dsh] (gc6) -- (gc6 -| vj);
\foreach \y/\v in {373.5/vd,384.5/ve,395.5/vf,405.5/vg} \draw (ao.east |- 0,\y) -- (\v |- 0,\y);
\foreach \y/\v in {798.5/vd,809.5/ve,820.5/vf,830.5/vg} \draw (bo.east |- 0,\y) -- (\v |- 0,\y);
\draw[->] (cx.east |- 0,1129.5) -| (vd |- ma1.west) -- (ma1.west);
\draw[->] (cx.east |- 0,1140.5) -| (ve |- ma2.west) -- (ma2.west);
\draw (vf |- 0,395.5) -- (vf |- 0,820.5);
\draw (vg |- 0,405.5) -- (vg |- 0,830.5);
\draw[->] (vf |- ma3.west) -- (ma3.west);
\draw[->] (vg |- ma4.west) -- (ma4.west);
\draw[->] (am2.east) -| (vb |- mc1.west) -- (mc1.west);
\draw[->] (am3.east |- 0,341.3) -| (vc |- mc2.west) -- (mc2.west);
\draw (bm2.east |- 0,722.5) -- (vb |- 0,722.5);
\draw (bm3.east |- 0,762.5) -- (vc |- 0,762.5);
\foreach \a/\v/\p/\q in {mo1/wa/254.5/681.5,mo2/wb/267.5/693.5,mo3/wc/306.5/729.5,mo4/wd/319.5/749.5} {
  \draw (\a) -- (\a -| \v) -- (\v |- 0,\p);
  \draw[<->] (rs.west |- 0,\p) -| (\v |- 0,\q) -- (ss.west |- 0,\q);
}
\draw (mo5) -- (mo5 -| we);
\draw[dsh] (mo6) -- (mo6 -| wf);
\draw[->] (wg |- tq3.west) -- (tq3.west);
\draw (tfh) -- (tfh -| we);
\draw[dsh] (tdh) -- (tdh -| wf);
\draw (1348,1400.5) -- (1695,1400.5);
\draw (1348,1434.5) -- (1695,1434.5);
\end{tikzpicture}
\end{document}
